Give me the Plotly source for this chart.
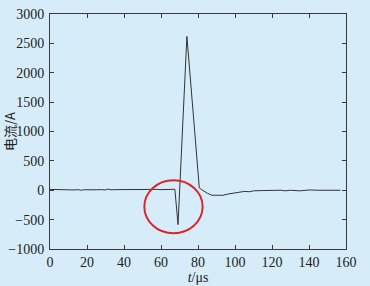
import plotly.graph_objects as go

t_us = [0, 2, 5, 8, 10, 13, 15, 17, 18, 20, 23, 25, 28, 30, 31, 33, 35, 38, 40, 43, 45, 48, 50,
        52, 55, 58, 60, 62, 64, 66, 67.5, 68.5, 69.2, 74, 80.7, 82, 85, 87.5, 93.5, 96.5, 100, 103,
        105, 108, 110, 115, 120, 125, 127, 130, 135, 140, 145, 150, 157]
current_a = [15, 12, 10, 8, 12, 5, 10, 0, 8, 5, 10, 8, 10, 5, 20, 8, 10, 12, 10, 8, 12, 10, 15,
             12, 10, 15, 10, 15, 12, 15, 15, -350, -585, 2620, 40, 10, -50, -85, -85, -63, -45, -35,
             -20, -25, -10, -5, 0, 0, -10, 0, -10, 5, 0, 0, 0]

x_ticks = [0, 20, 40, 60, 80, 100, 120, 140, 160]
y_ticks = [-1000, -500, 0, 500, 1000, 1500, 2000, 2500, 3000]

bg = "#d6edf9"
axis_color = "#3a3a3a"
serif = "Liberation Serif, Times New Roman, serif"

fig = go.Figure()
fig.add_trace(go.Scatter(x=t_us, y=current_a, mode="lines",
                         line=dict(color="#333333", width=1), showlegend=False))

fig.add_shape(type="circle", xref="x", yref="y", x0=51, x1=82.5, y0=-730, y1=170,
              line=dict(color="#d9252a", width=2))

fig.update_layout(
    width=370, height=286,
    margin=dict(l=50, r=24, t=14, b=37),
    paper_bgcolor=bg, plot_bgcolor=bg,
    font=dict(family=serif, size=14, color="#222222"),
)
fig.update_xaxes(range=[0, 160], tickvals=x_ticks, ticks="inside", ticklen=4,
                 showline=True, linecolor=axis_color, linewidth=1, mirror="ticks",
                 showgrid=False, zeroline=False, tickcolor=axis_color, automargin=False,
                 title=dict(text="<i>t</i>/μs", standoff=1, font=dict(size=14)))
fig.update_yaxes(range=[-1000, 3000], tickvals=y_ticks, ticks="inside", ticklen=4,
                 showline=True, linecolor=axis_color, linewidth=1, mirror="ticks",
                 showgrid=False, zeroline=False, tickcolor=axis_color, automargin=False,
                 ticklabelstandoff=2,
                 title=dict(text="电流/A", standoff=0,
                            font=dict(size=13, family="Noto Sans CJK SC, Liberation Serif")))

fig.write_html("out.html", config={"displayModeBar": False},
               post_script="document.body.style.margin='0';document.body.style.overflow='hidden';")
